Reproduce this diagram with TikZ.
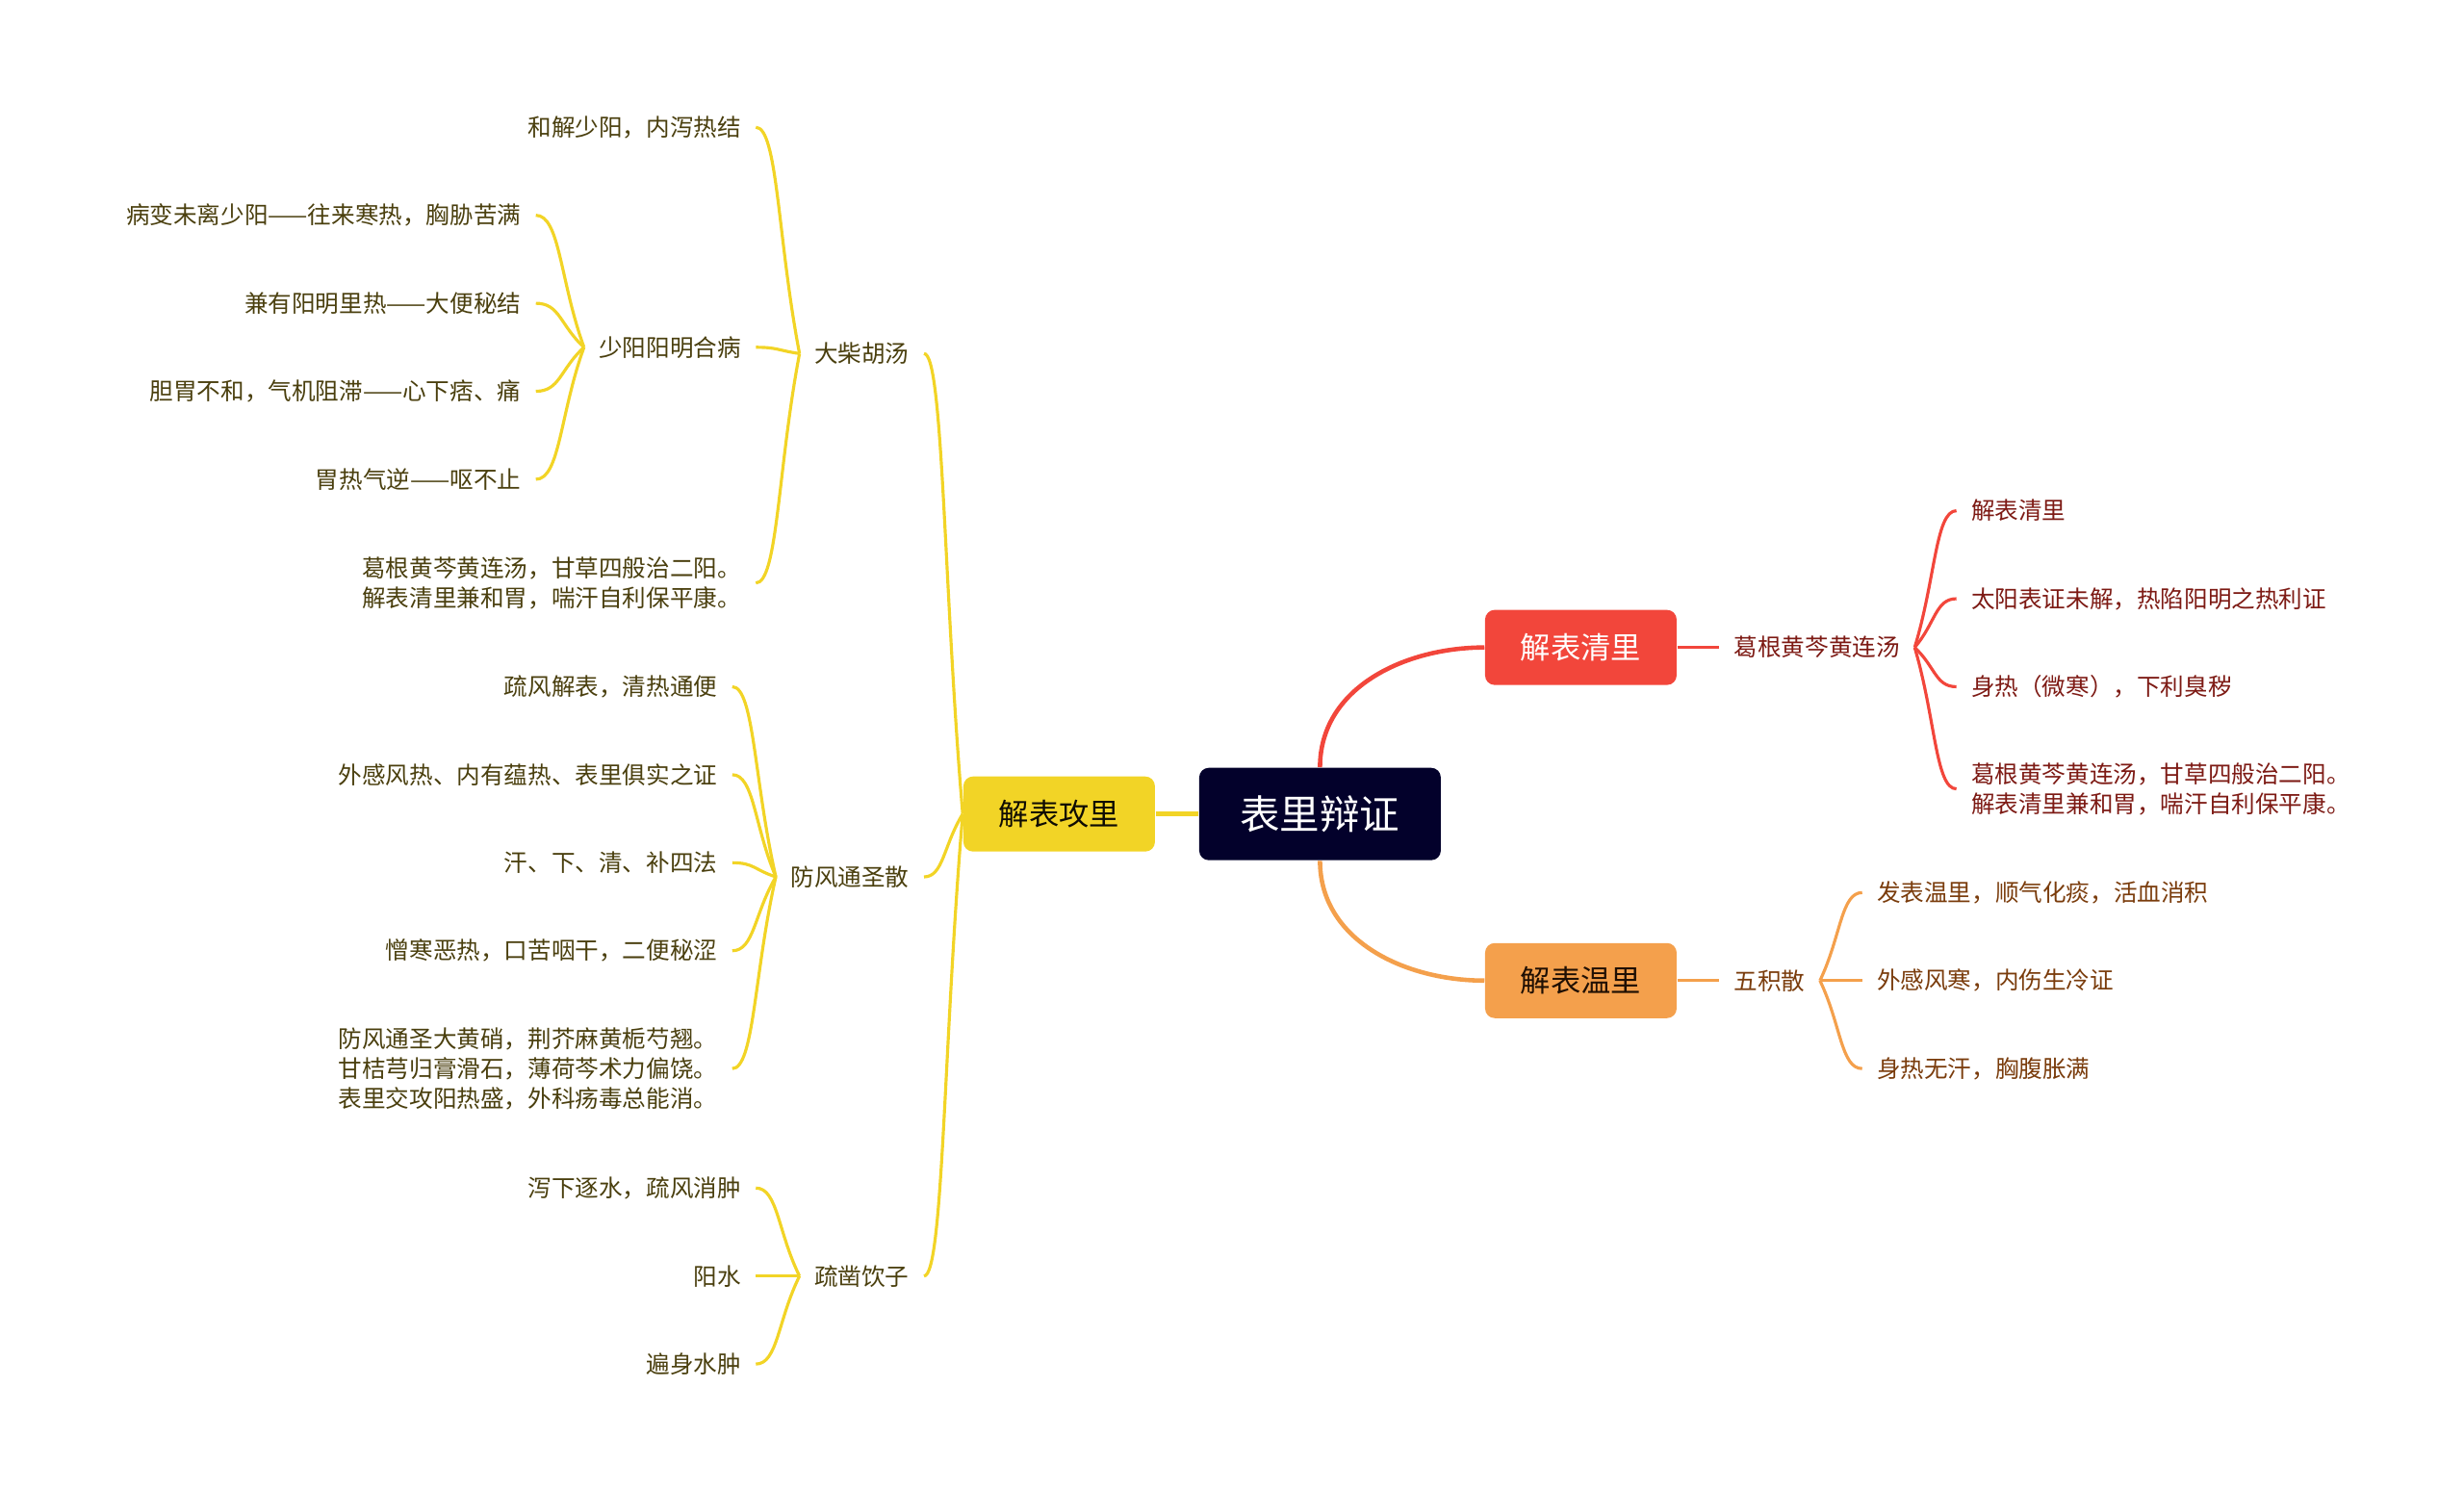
\documentclass[tikz,border=0pt]{standalone}
\usepackage{fontspec}
\setmainfont{Noto Sans CJK SC}
\usetikzlibrary{calc}

\definecolor{rootbg}{HTML}{03012B}
\definecolor{ybg}{HTML}{F2D426}
\definecolor{rbg}{HTML}{F2463B}
\definecolor{obg}{HTML}{F4A04C}
\definecolor{ytxt}{HTML}{4A3F0E}
\definecolor{rtxt}{HTML}{7D1A14}
\definecolor{otxt}{HTML}{7A3C0C}

\begin{document}
\begin{tikzpicture}[x=0.016327cm, y=0.016327cm,
    box/.style={rectangle, rounded corners=0.1cm, minimum width=1.99cm, minimum height=0.78cm, inner sep=0pt, font=\fontsize{8.9pt}{10pt}\selectfont},
    rootbox/.style={box, fill=rootbg, text=white, minimum width=2.51cm, minimum height=0.96cm, font=\fontsize{11.8pt}{13pt}\selectfont},
    leaf/.style={inner xsep=4.2pt, inner ysep=1pt, font=\fontsize{7pt}{8.8pt}\selectfont},
    yleaf/.style={leaf, anchor=east, align=right, text=ytxt},
    rleaf/.style={leaf, anchor=west, align=left, text=rtxt},
    oleaf/.style={leaf, anchor=west, align=left, text=otxt},
    yline/.style={draw=ybg, line width=0.9pt},
    rline/.style={draw=rbg, line width=0.9pt},
    oline/.style={draw=obg, line width=0.9pt},
    fan/.style={to path={.. controls ($(\tikztostart)!.5!(\tikztotarget)$) and ($(\tikztostart|-\tikztotarget)!.5!(\tikztotarget)$) .. (\tikztotarget)}}]
    \useasboundingbox (0,0) rectangle (1568,948);

    % centre and main branches
    \node[rootbox] (root) at (840,430) {表里辩证};
    \node[box, fill=ybg, text=black!80!ytxt] (gongli) at (674,430) {解表攻里};
    \node[box, fill=rbg, text=white] (qingli) at (1006,536) {解表清里};
    \node[box, fill=obg, text=black!75!otxt] (wenli) at (1006,324) {解表温里};

    \draw[yline, line width=1.3pt] (root.west) -- (gongli.east);
    \draw[rline, line width=1.3pt] (root.north) to[out=90, in=180] (qingli.west);
    \draw[oline, line width=1.3pt] (root.south) to[out=-90, in=180] (wenli.west);

    % 解表清里
    \node[rleaf] (gegen) at (1094,536) {葛根黄芩黄连汤};
    \node[rleaf] (r1) at (1245,623) {解表清里};
    \node[rleaf] (r2) at (1245,567) {太阳表证未解，热陷阳明之热利证};
    \node[rleaf] (r3) at (1245,511) {身热（微寒），下利臭秽};
    \node[rleaf] (r4) at (1245,446) {葛根黄芩黄连汤，甘草四般治二阳。\\解表清里兼和胃，喘汗自利保平康。};

    \draw[rline] (qingli.east) -- (gegen.west);
    \foreach \c in {r1,r2,r3,r4}
        \draw[rline] (gegen.east) to[fan] (\c.west);

    % 解表温里
    \node[oleaf] (wuji) at (1094,324) {五积散};
    \node[oleaf] (o1) at (1185,380) {发表温里，顺气化痰，活血消积};
    \node[oleaf] (o2) at (1185,324) {外感风寒，内伤生冷证};
    \node[oleaf] (o3) at (1185,268) {身热无汗，胸腹胀满};

    \draw[oline] (wenli.east) -- (wuji.west);
    \foreach \c in {o1,o2,o3}
        \draw[oline] (wuji.east) to[fan] (\c.west);

    % 解表攻里
    \node[yleaf] (dachai) at (588,723) {大柴胡汤};
    \node[yleaf] (fangfeng) at (588,390) {防风通圣散};
    \node[yleaf] (shuzao) at (588,136) {疏凿饮子};

    \foreach \c in {dachai,fangfeng,shuzao}
        \draw[yline] (gongli.west) to[fan] (\c.east);

    \node[yleaf] (d1) at (481,867) {和解少阳，内泻热结};
    \node[yleaf] (d2) at (481,727) {少阳阳明合病};
    \node[yleaf] (d3) at (481,577) {葛根黄芩黄连汤，甘草四般治二阳。\\解表清里兼和胃，喘汗自利保平康。};
    \foreach \c in {d1,d2,d3}
        \draw[yline] (dachai.west) to[fan] (\c.east);

    \node[yleaf] (s1) at (341,811) {病变未离少阳——往来寒热，胸胁苦满};
    \node[yleaf] (s2) at (341,755) {兼有阳明里热——大便秘结};
    \node[yleaf] (s3) at (341,699) {胆胃不和，气机阻滞——心下痞、痛};
    \node[yleaf] (s4) at (341,643) {胃热气逆——呕不止};
    \foreach \c in {s1,s2,s3,s4}
        \draw[yline] (d2.west) to[fan] (\c.east);

    \node[yleaf] (f1) at (466,511) {疏风解表，清热通便};
    \node[yleaf] (f2) at (466,455) {外感风热、内有蕴热、表里俱实之证};
    \node[yleaf] (f3) at (466,399) {汗、下、清、补四法};
    \node[yleaf] (f4) at (466,343) {憎寒恶热，口苦咽干，二便秘涩};
    \node[yleaf] (f5) at (466,268) {防风通圣大黄硝，荆芥麻黄栀芍翘。\\甘桔芎归膏滑石，薄荷芩术力偏饶。\\表里交攻阳热盛，外科疡毒总能消。};
    \foreach \c in {f1,f2,f3,f4,f5}
        \draw[yline] (fangfeng.west) to[fan] (\c.east);

    \node[yleaf] (z1) at (481,192) {泻下逐水，疏风消肿};
    \node[yleaf] (z2) at (481,136) {阳水};
    \node[yleaf] (z3) at (481,80) {遍身水肿};
    \foreach \c in {z1,z2,z3}
        \draw[yline] (shuzao.west) to[fan] (\c.east);
\end{tikzpicture}
\end{document}
